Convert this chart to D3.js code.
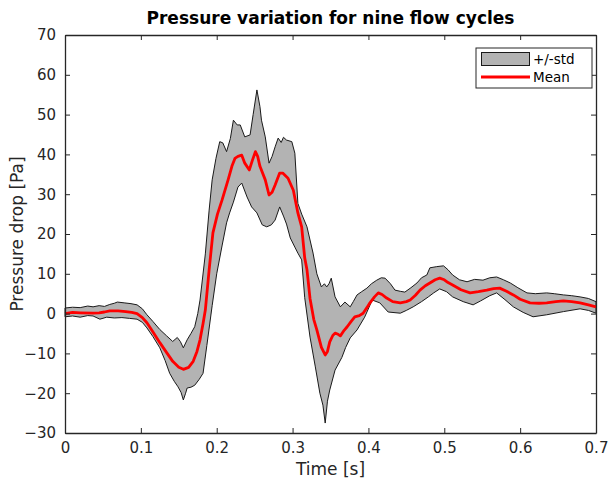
<!DOCTYPE html>
<html>
<head>
<meta charset="utf-8">
<script src="https://cdn.jsdelivr.net/npm/d3@7"></script>
<style>
  body { margin: 0; background: #fff; }
  svg { font-family: "DejaVu Sans", sans-serif; }
</style>
</head>
<body>
<div class="chart"></div>
<script>
// std band, upper edge
var upperT = [0, 0.01, 0.02, 0.03, 0.037, 0.045, 0.052, 0.059, 0.065, 0.069, 0.078, 0.087, 0.095, 0.102, 0.108, 0.116, 0.125, 0.134, 0.142, 0.148, 0.152, 0.156, 0.161, 0.166, 0.171, 0.175, 0.178, 0.185, 0.19, 0.194, 0.199, 0.204, 0.208, 0.213, 0.218, 0.222, 0.227, 0.231, 0.237, 0.244, 0.248, 0.253, 0.257, 0.259, 0.264, 0.269, 0.273, 0.277, 0.281, 0.285, 0.288, 0.292, 0.299, 0.303, 0.307, 0.312, 0.319, 0.327, 0.332, 0.338, 0.342, 0.345, 0.348, 0.351, 0.356, 0.363, 0.369, 0.376, 0.38, 0.385, 0.391, 0.398, 0.404, 0.411, 0.417, 0.422, 0.429, 0.435, 0.442, 0.448, 0.456, 0.464, 0.47, 0.477, 0.481, 0.49, 0.499, 0.505, 0.511, 0.52, 0.53, 0.54, 0.551, 0.56, 0.569, 0.578, 0.587, 0.597, 0.609, 0.62, 0.635, 0.645, 0.657, 0.668, 0.679, 0.69, 0.7];
var upperV = [1.4, 1.6, 1.5, 1.9, 1.7, 2.0, 1.8, 2.3, 2.6, 2.9, 2.7, 2.5, 2.2, 1.2, -0.3, -2.0, -4.0, -5.6, -7.0, -6.0, -7.0, -8.6, -6.6, -5.0, -3.3, 0, 3.4, 15, 26, 33.6, 39, 43.2, 42.9, 40.7, 44, 48.6, 47.4, 47.4, 44.4, 44.9, 50, 56.2, 52, 48.6, 44.4, 37.8, 39.5, 41.9, 44.1, 43.0, 44.3, 43.6, 43.2, 40.3, 27.7, 25, 21.8, 15.2, 10, 6.7, 7.5, 6.7, 7.5, 8.9, 4.2, 1.7, 2.9, 1.7, 3.0, 4.7, 5.5, 6.4, 7.5, 8.4, 9.0, 8.9, 7.5, 5.9, 5.6, 5.4, 6.5, 7.7, 9.0, 9.7, 11.5, 11.8, 12.0, 11, 9.7, 8.5, 8.0, 8.6, 8.4, 9.0, 9.2, 8.5, 7.7, 6.5, 5.2, 5.0, 5.2, 5.0, 4.7, 4.5, 4.2, 3.8, 3.0];

// std band, lower edge
var lowerT = [0, 0.01, 0.02, 0.03, 0.037, 0.046, 0.055, 0.065, 0.075, 0.085, 0.095, 0.102, 0.108, 0.116, 0.125, 0.132, 0.138, 0.144, 0.149, 0.153, 0.156, 0.159, 0.161, 0.166, 0.171, 0.177, 0.182, 0.187, 0.194, 0.2, 0.207, 0.213, 0.217, 0.222, 0.228, 0.233, 0.24, 0.246, 0.253, 0.26, 0.266, 0.272, 0.277, 0.283, 0.288, 0.292, 0.297, 0.303, 0.307, 0.312, 0.316, 0.323, 0.33, 0.336, 0.34, 0.343, 0.346, 0.349, 0.356, 0.365, 0.37, 0.376, 0.385, 0.395, 0.405, 0.415, 0.426, 0.442, 0.45, 0.459, 0.47, 0.479, 0.486, 0.494, 0.503, 0.511, 0.525, 0.538, 0.548, 0.56, 0.569, 0.58, 0.591, 0.604, 0.617, 0.635, 0.657, 0.679, 0.69, 0.7];
var lowerV = [-0.8, -0.6, -0.9, -0.5, -0.6, -1.4, -0.9, -1.1, -1.0, -1.2, -1.4, -2.2, -3.6, -5.8, -8.6, -11.8, -15, -17, -18.4, -19.8, -21.7, -20, -18.7, -18.5, -18, -16.5, -15, -8, 2, 10, 17, 22.8, 25.3, 28, 31.8, 32.8, 29.3, 26.8, 25.3, 22.3, 21.8, 22.3, 23.5, 26.8, 24.5, 22.5, 19, 16.7, 15.2, 13.5, 4, -5.9, -13.4, -20, -23, -27.5, -22, -19.2, -14.2, -11, -8.5, -6.1, -4.1, -0.9, 3.4, 2.7, 0.4, 0.1, 0.8, 1.7, 3.0, 4.2, 5.2, 6.2, 5.5, 4.2, 3.0, 2.2, 3.2, 4.5, 5.2, 3.5, 1.7, 0.3, -0.8, -0.3, 0.5, 1.2, 0.8, 0.1];

// mean pressure drop
var meanT = [0, 0.01, 0.02, 0.037, 0.045, 0.052, 0.059, 0.07, 0.08, 0.088, 0.095, 0.102, 0.108, 0.116, 0.125, 0.134, 0.142, 0.15, 0.156, 0.163, 0.169, 0.174, 0.178, 0.182, 0.185, 0.19, 0.195, 0.201, 0.207, 0.215, 0.22, 0.224, 0.228, 0.233, 0.237, 0.243, 0.247, 0.251, 0.254, 0.257, 0.264, 0.269, 0.273, 0.277, 0.283, 0.287, 0.294, 0.301, 0.307, 0.312, 0.316, 0.319, 0.323, 0.328, 0.332, 0.338, 0.343, 0.346, 0.349, 0.353, 0.356, 0.36, 0.363, 0.368, 0.372, 0.377, 0.382, 0.388, 0.393, 0.398, 0.402, 0.408, 0.413, 0.418, 0.424, 0.432, 0.442, 0.45, 0.455, 0.462, 0.468, 0.475, 0.481, 0.488, 0.494, 0.5, 0.505, 0.511, 0.522, 0.534, 0.545, 0.556, 0.565, 0.573, 0.582, 0.591, 0.6, 0.613, 0.625, 0.635, 0.647, 0.657, 0.668, 0.679, 0.69, 0.7];
var meanV = [0, 0.3, 0.2, 0.1, 0.2, 0.4, 0.7, 0.7, 0.5, 0.3, 0, -1.0, -2.3, -4.6, -7.3, -9.8, -12, -13.5, -14.0, -13.5, -12, -9.5, -6.6, -2.5, 0.9, 11, 20.3, 25, 28.5, 33.6, 37, 39, 39.5, 39.8, 37.8, 36.1, 38.5, 40.7, 39.5, 37, 33.6, 29.8, 30.5, 32.3, 35.3, 35.3, 34, 31, 25.3, 21.8, 14, 11, 3.8, -1.5, -4.1, -8.5, -10.4, -9.5, -7.1, -5.5, -4.9, -5.2, -5.6, -4.2, -3.3, -2.0, -0.8, -0.5, 0.1, 1.5, 2.7, 4.2, 5.2, 4.8, 3.9, 3.0, 2.7, 3.0, 3.4, 4.6, 5.9, 7.0, 7.7, 8.5, 8.9, 8.5, 7.8, 7.2, 6.0, 5.2, 5.5, 5.9, 6.3, 6.4, 5.6, 4.7, 3.6, 2.7, 2.6, 2.7, 3.0, 3.2, 3.0, 2.7, 2.2, 1.7];

var xTicks = [0, 0.1, 0.2, 0.3, 0.4, 0.5, 0.6, 0.7];
var yTicks = [-30, -20, -10, 0, 10, 20, 30, 40, 50, 60, 70];
var legendLabels = ["+/-std", "Mean"];

var width = 608, height = 483;
var margin = {top: 35, right: 12, bottom: 50, left: 65};
var axisColor = "#262626";

var svg = d3.select(".chart").append("svg")
    .attr("width", width)
    .attr("height", height);

var x = d3.scaleLinear()
    .domain([0, 0.7])
    .range([margin.left, width - margin.right]);

var y = d3.scaleLinear()
    .domain([-30, 70])
    .range([height - margin.bottom, margin.top]);

var line = d3.line()
    .x(function(d) { return x(d[0]); })
    .y(function(d) { return y(d[1]); });

var upperPts = upperT.map(function(t, i) { return [t, upperV[i]]; });
var lowerPts = lowerT.map(function(t, i) { return [t, lowerV[i]]; });
var meanPts = meanT.map(function(t, i) { return [t, meanV[i]]; });

//std band: upper edge forward, lower edge back
svg.append("path")
    .attr("d", line(upperPts.concat(lowerPts.slice().reverse())) + "Z")
    .attr("fill", "#b3b3b3")
    .attr("stroke", "#1a1a1a")
    .attr("stroke-width", 1)
    .attr("stroke-linejoin", "round");

//mean line
svg.append("path")
    .attr("d", line(meanPts))
    .attr("fill", "none")
    .attr("stroke", "#ff0000")
    .attr("stroke-width", 2.8)
    .attr("stroke-linejoin", "round");

//axes, ticks point inward on all sides
var tk = 5;
var bottomAxis = svg.append("g")
    .attr("transform", "translate(0," + y(-30) + ")")
    .call(d3.axisBottom(x).tickValues(xTicks).tickSizeInner(-tk).tickSizeOuter(0).tickPadding(9)
      .tickFormat(function(d) { return d === 0 ? "0" : d3.format(".1f")(d); }));
var topAxis = svg.append("g")
    .attr("transform", "translate(0," + y(70) + ")")
    .call(d3.axisTop(x).tickValues(xTicks).tickSizeInner(-tk).tickSizeOuter(0).tickFormat(""));
var leftAxis = svg.append("g")
    .attr("transform", "translate(" + x(0) + ",0)")
    .call(d3.axisLeft(y).tickValues(yTicks).tickSizeInner(-tk).tickSizeOuter(0).tickPadding(9));
var rightAxis = svg.append("g")
    .attr("transform", "translate(" + x(0.7) + ",0)")
    .call(d3.axisRight(y).tickValues(yTicks).tickSizeInner(-tk).tickSizeOuter(0).tickFormat(""));

[bottomAxis, topAxis, leftAxis, rightAxis].forEach(function(a) {
  a.selectAll("path").attr("stroke", axisColor).attr("stroke-width", 1.3);
  a.selectAll("line").attr("stroke", axisColor).attr("stroke-width", 1);
  a.selectAll("text")
    .attr("fill", axisColor)
    .style("font-size", "15px")
    .style("font-family", "DejaVu Sans, sans-serif");
});

//title and labels
svg.append("text")
    .attr("x", (x(0) + x(0.7)) / 2)
    .attr("y", 24)
    .attr("text-anchor", "middle")
    .style("font-size", "17px")
    .style("font-weight", "bold")
    .attr("fill", "#000")
    .text("Pressure variation for nine flow cycles");

svg.append("text")
    .attr("x", (x(0) + x(0.7)) / 2)
    .attr("y", 475)
    .attr("text-anchor", "middle")
    .style("font-size", "17px")
    .attr("fill", axisColor)
    .text("Time [s]");

svg.append("text")
    .attr("transform", "translate(23," + (y(20)) + ") rotate(-90)")
    .attr("text-anchor", "middle")
    .style("font-size", "17px")
    .attr("fill", axisColor)
    .text("Pressure drop [Pa]");

//legend
var lg = svg.append("g").attr("transform", "translate(476,48)");
lg.append("rect")
    .attr("width", 116).attr("height", 40)
    .attr("fill", "#fff").attr("stroke", axisColor).attr("stroke-width", 1);
lg.append("rect")
    .attr("x", 5.5).attr("y", 4.5).attr("width", 48).attr("height", 13)
    .attr("fill", "#b3b3b3").attr("stroke", "#1a1a1a").attr("stroke-width", 1);
lg.append("line")
    .attr("x1", 5).attr("x2", 54).attr("y1", 29).attr("y2", 29)
    .attr("stroke", "#ff0000").attr("stroke-width", 2.8);
lg.selectAll(".lgtext")
    .data(legendLabels)
    .enter()
    .append("text")
    .attr("class", "lgtext")
    .attr("x", 57)
    .attr("y", function(d, i) { return 16 + i * 18; })
    .style("font-size", "13.5px")
    .attr("fill", "#000")
    .text(function(d) { return d; });
</script>
</body>
</html>
